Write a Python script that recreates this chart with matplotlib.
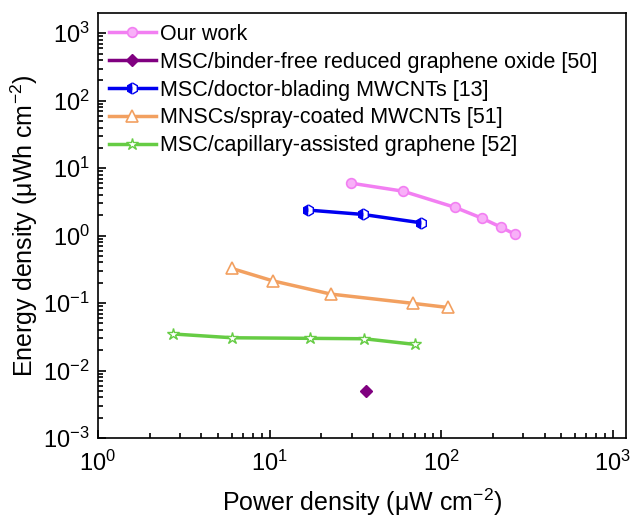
import matplotlib
matplotlib.use('Agg')
import matplotlib.pyplot as plt
from matplotlib.ticker import LogLocator, NullFormatter

plt.rcParams['font.family'] = ['Liberation Sans', 'DejaVu Sans']
plt.rcParams['mathtext.fontset'] = 'custom'
plt.rcParams['mathtext.rm'] = 'Liberation Sans'
plt.rcParams['mathtext.it'] = 'Liberation Sans'
plt.rcParams['axes.unicode_minus'] = False

# 数据
ours_p = [29.7, 59.8, 120, 172, 222, 268]
ours_e = [6.0, 4.56, 2.63, 1.82, 1.34, 1.05]

rgo_p = [36.2]
rgo_e = [0.005]

blade_p = [16.8, 35, 76]
blade_e = [2.39, 2.06, 1.55]

spray_p = [6.0, 10.4, 22.7, 68.6, 109.7]
spray_e = [0.327, 0.214, 0.136, 0.099, 0.086]

cap_p = [2.75, 6.06, 17.3, 35.6, 70.2]
cap_e = [0.0348, 0.0306, 0.030, 0.0296, 0.0244]

labels = ['Our work',
          'MSC/binder-free reduced graphene oxide [50]',
          'MSC/doctor-blading MWCNTs [13]',
          'MNSCs/spray-coated MWCNTs [51]',
          'MSC/capillary-assisted graphene [52]']

fig = plt.figure(figsize=(6.33, 5.2), dpi=100)
ax = fig.add_axes([0.1548, 0.1577, 0.834, 0.8173])

lw = 2.5
ax.plot(ours_p, ours_e, '-o', color='#F27FF2', lw=lw, ms=7,
        mfc='#F8B0F8', mec='#F27FF2', mew=1.2, label=labels[0])
ax.plot(rgo_p, rgo_e, '-D', color='#800080', lw=lw, ms=6.5,
        mfc='#800080', mec='#800080', label=labels[1])
ax.plot(blade_p, blade_e, '-h', color='#0000F0', lw=lw, ms=8,
        fillstyle='left', mfc='#0000F0', mfcalt='white', mec='#0000F0',
        mew=1.0, label=labels[2])
ax.plot(spray_p, spray_e, '-^', color='#F2A060', lw=lw, ms=8,
        mfc='white', mec='#F2A060', mew=1.2, label=labels[3])
ax.plot(cap_p, cap_e, '-*', color='#66CC44', lw=lw, ms=9,
        mfc='white', mec='#66CC44', mew=1.0, label=labels[4])

ax.set_xscale('log')
ax.set_yscale('log')
ax.set_xlim(1, 10 ** 3.076)
ax.set_ylim(1e-3, 10 ** 3.30)

ax.xaxis.set_major_locator(LogLocator(base=10, numticks=10))
ax.yaxis.set_major_locator(LogLocator(base=10, numticks=10))
ax.xaxis.set_minor_locator(LogLocator(base=10, subs=range(2, 10), numticks=20))
ax.yaxis.set_minor_locator(LogLocator(base=10, subs=range(2, 10), numticks=20))
ax.xaxis.set_minor_formatter(NullFormatter())
ax.yaxis.set_minor_formatter(NullFormatter())

ax.tick_params(which='both', direction='in', top=False, right=False,
               labelsize=17, width=1.2)
ax.tick_params(which='major', length=6)
ax.tick_params(which='minor', length=3.5)
ax.tick_params(axis='x', which='major', pad=9)
ax.tick_params(axis='y', which='major', pad=6)
for s in ax.spines.values():
    s.set_linewidth(1.2)

ax.set_xlabel('Power density (μW cm$^{-2}$)', fontsize=18, labelpad=8)
ax.set_ylabel('Energy density (μWh cm$^{-2}$)', fontsize=18, labelpad=2)

ax.legend(loc='upper left', frameon=False, fontsize=15.5, handlelength=2.2,
          handletextpad=0.2, labelspacing=0.32, borderaxespad=0.1,
          bbox_to_anchor=(0.0, 1.0))

fig.savefig('out.png', dpi=100)
